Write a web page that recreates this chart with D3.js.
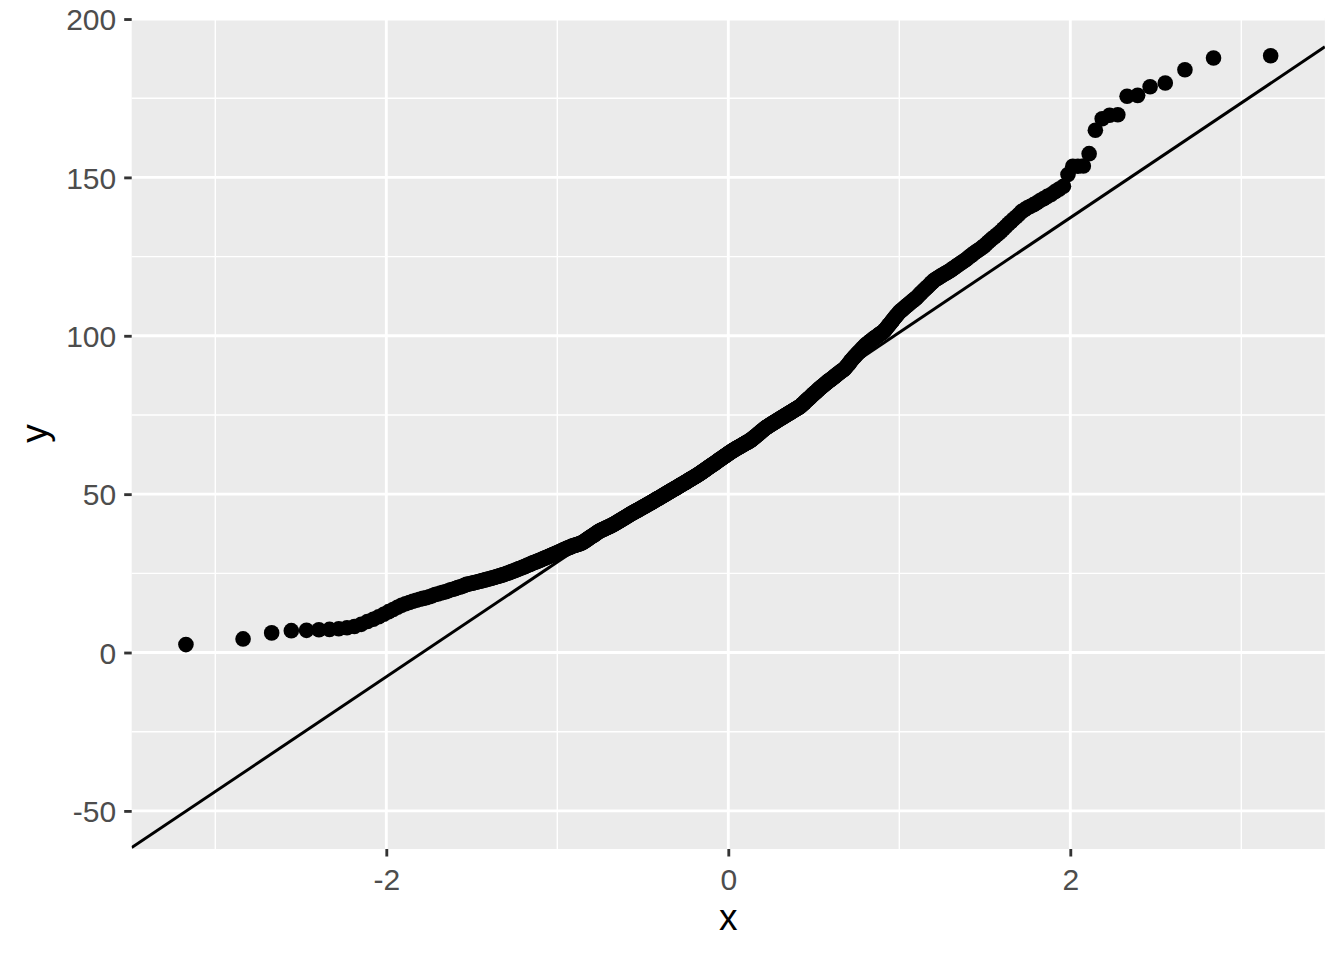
<!DOCTYPE html>
<html>
<head>
<meta charset="utf-8">
<script src="https://cdn.jsdelivr.net/npm/d3@7"></script>
<style>
  html, body { margin: 0; padding: 0; background: #ffffff; }
  svg { display: block; }
  text { font-family: "Liberation Sans", Arial, Helvetica, sans-serif; }
</style>
</head>
<body>
<svg id="chart" width="1344" height="960"></svg>
<script>
// Sorted sample values (y), one per point (n = 660)
const sampleValues = [
  2.5, 4.3, 6.2, 6.9, 7.0, 7.2, 7.3, 7.5, 7.8, 8.2,
  8.9, 9.8, 10.5, 11.3, 12.1, 12.9, 13.6, 14.3, 14.9, 15.4,
  15.8, 16.2, 16.5, 16.8, 17.1, 17.3, 17.6, 17.9, 18.3, 18.5,
  18.8, 19.0, 19.2, 19.5, 19.8, 20.0, 20.2, 20.5, 20.7, 20.9,
  21.2, 21.5, 21.6, 21.8, 21.9, 22.1, 22.2, 22.4, 22.5, 22.7,
  22.8, 23.0, 23.1, 23.3, 23.4, 23.6, 23.7, 23.9, 24.0, 24.2,
  24.3, 24.5, 24.6, 24.8, 25.0, 25.1, 25.3, 25.5, 25.7, 25.8,
  26.0, 26.2, 26.4, 26.5, 26.7, 26.9, 27.0, 27.2, 27.4, 27.6,
  27.7, 27.9, 28.1, 28.3, 28.4, 28.6, 28.7, 28.9, 29.0, 29.2,
  29.3, 29.5, 29.7, 29.8, 30.0, 30.1, 30.3, 30.4, 30.6, 30.7,
  30.9, 31.0, 31.2, 31.3, 31.5, 31.6, 31.8, 31.9, 32.1, 32.2,
  32.4, 32.5, 32.7, 32.8, 33.0, 33.1, 33.2, 33.3, 33.5, 33.6,
  33.7, 33.8, 33.9, 34.0, 34.1, 34.2, 34.3, 34.4, 34.5, 34.7,
  34.8, 35.0, 35.2, 35.4, 35.6, 35.8, 36.0, 36.2, 36.4, 36.6,
  36.8, 36.9, 37.1, 37.3, 37.5, 37.7, 37.9, 38.1, 38.3, 38.4,
  38.5, 38.7, 38.8, 38.9, 39.0, 39.2, 39.3, 39.4, 39.5, 39.7,
  39.8, 39.9, 40.0, 40.2, 40.3, 40.4, 40.6, 40.7, 40.9, 41.0,
  41.2, 41.3, 41.5, 41.6, 41.8, 41.9, 42.1, 42.2, 42.4, 42.5,
  42.7, 42.8, 43.0, 43.1, 43.3, 43.4, 43.6, 43.7, 43.9, 44.0,
  44.1, 44.3, 44.4, 44.5, 44.7, 44.8, 44.9, 45.0, 45.2, 45.3,
  45.4, 45.6, 45.7, 45.8, 46.0, 46.1, 46.2, 46.4, 46.5, 46.6,
  46.8, 46.9, 47.0, 47.1, 47.3, 47.4, 47.5, 47.7, 47.8, 47.9,
  48.1, 48.2, 48.3, 48.5, 48.6, 48.7, 48.8, 49.0, 49.1, 49.2,
  49.4, 49.5, 49.6, 49.8, 49.9, 50.0, 50.2, 50.3, 50.4, 50.6,
  50.7, 50.8, 50.9, 51.1, 51.2, 51.3, 51.4, 51.6, 51.7, 51.8,
  51.9, 52.1, 52.2, 52.3, 52.5, 52.6, 52.7, 52.8, 53.0, 53.1,
  53.2, 53.3, 53.5, 53.6, 53.7, 53.8, 54.0, 54.1, 54.2, 54.4,
  54.5, 54.6, 54.7, 54.9, 55.0, 55.1, 55.2, 55.4, 55.5, 55.6,
  55.7, 55.9, 56.0, 56.1, 56.3, 56.4, 56.5, 56.7, 56.8, 57.0,
  57.1, 57.3, 57.4, 57.5, 57.7, 57.8, 58.0, 58.1, 58.3, 58.4,
  58.6, 58.7, 58.8, 59.0, 59.1, 59.3, 59.4, 59.6, 59.7, 59.8,
  60.0, 60.1, 60.3, 60.4, 60.6, 60.7, 60.9, 61.0, 61.1, 61.3,
  61.4, 61.6, 61.7, 61.9, 62.0, 62.1, 62.3, 62.4, 62.6, 62.7,
  62.9, 63.0, 63.1, 63.3, 63.4, 63.6, 63.7, 63.8, 63.9, 64.1,
  64.2, 64.3, 64.4, 64.5, 64.7, 64.8, 64.9, 65.0, 65.1, 65.2,
  65.4, 65.5, 65.6, 65.7, 65.8, 66.0, 66.1, 66.2, 66.3, 66.4,
  66.5, 66.6, 66.8, 66.9, 67.0, 67.2, 67.3, 67.5, 67.7, 67.9,
  68.0, 68.2, 68.4, 68.6, 68.7, 68.9, 69.1, 69.3, 69.4, 69.6,
  69.8, 70.0, 70.1, 70.3, 70.5, 70.7, 70.8, 71.0, 71.1, 71.3,
  71.4, 71.5, 71.7, 71.8, 71.9, 72.1, 72.2, 72.3, 72.5, 72.6,
  72.7, 72.9, 73.0, 73.1, 73.3, 73.4, 73.5, 73.7, 73.8, 73.9,
  74.1, 74.2, 74.3, 74.5, 74.6, 74.7, 74.9, 75.0, 75.1, 75.3,
  75.4, 75.5, 75.7, 75.8, 75.9, 76.1, 76.2, 76.3, 76.5, 76.6,
  76.7, 76.9, 77.0, 77.1, 77.3, 77.4, 77.5, 77.7, 77.9, 78.1,
  78.3, 78.5, 78.7, 78.9, 79.2, 79.4, 79.6, 79.8, 80.0, 80.2,
  80.4, 80.6, 80.8, 81.1, 81.3, 81.5, 81.7, 81.9, 82.1, 82.3,
  82.5, 82.8, 83.0, 83.2, 83.4, 83.6, 83.8, 84.0, 84.2, 84.4,
  84.6, 84.8, 85.0, 85.2, 85.4, 85.6, 85.8, 86.0, 86.1, 86.3,
  86.5, 86.7, 86.9, 87.1, 87.3, 87.5, 87.7, 87.9, 88.1, 88.3,
  88.5, 88.7, 88.9, 89.1, 89.2, 89.4, 89.7, 90.0, 90.3, 90.6,
  90.9, 91.2, 91.6, 92.0, 92.3, 92.6, 92.9, 93.2, 93.5, 93.8,
  94.1, 94.4, 94.7, 94.9, 95.2, 95.5, 95.8, 96.1, 96.4, 96.7,
  97.0, 97.2, 97.5, 97.7, 97.9, 98.2, 98.4, 98.6, 98.8, 99.1,
  99.3, 99.5, 99.7, 99.9, 100.2, 100.4, 100.6, 100.8, 101.0, 101.3,
  101.5, 101.9, 102.3, 102.7, 103.1, 103.5, 103.9, 104.3, 104.7, 105.1,
  105.5, 105.9, 106.3, 106.7, 107.1, 107.5, 107.8, 108.1, 108.4, 108.7,
  109.0, 109.3, 109.6, 109.9, 110.2, 110.5, 110.8, 111.1, 111.4, 111.7,
  112.0, 112.4, 112.8, 113.2, 113.6, 114.0, 114.4, 114.7, 115.1, 115.5,
  115.9, 116.3, 116.7, 117.1, 117.5, 117.8, 118.0, 118.3, 118.6, 118.9,
  119.1, 119.4, 119.7, 119.9, 120.2, 120.5, 120.8, 121.2, 121.5, 121.9,
  122.2, 122.6, 122.9, 123.3, 123.6, 124.0, 124.4, 124.9, 125.3, 125.7,
  126.2, 126.6, 127.0, 127.4, 127.9, 128.3, 128.9, 129.5, 130.1, 130.7,
  131.2, 131.8, 132.4, 133.0, 133.8, 134.5, 135.3, 136.0, 136.8, 137.5,
  138.3, 139.2, 139.8, 140.4, 140.9, 141.4, 142.0, 142.7, 143.3, 144.0,
  144.6, 145.5, 146.3, 147.2, 150.9, 153.5, 153.5, 153.6, 157.5, 164.9,
  168.5, 169.6, 169.8, 175.6, 175.9, 178.6, 179.8, 184.0, 187.7, 188.4
];

const xTicks = [-2, 0, 2];
const xMinorTicks = [-3, -1, 1, 3];
const yTicks = [-50, 0, 50, 100, 150, 200];
const yMinorTicks = [-25, 25, 75, 125, 175];
const xTitle = "x";
const yTitle = "y";

// inverse standard normal CDF (Acklam) used by the QQ statistic
function qnorm(p) {
  const a = [-3.969683028665376e+01, 2.209460984245205e+02, -2.759285104469687e+02, 1.383577518672690e+02, -3.066479806614716e+01, 2.506628277459239e+00];
  const b = [-5.447609879822406e+01, 1.615858368580409e+02, -1.556989798598866e+02, 6.680131188771972e+01, -1.328068155288572e+01];
  const c = [-7.784894002430293e-03, -3.223964580411365e-01, -2.400758277161838e+00, -2.549671323440625e+00, 4.374664141464968e+00, 2.938163982698783e+00];
  const d = [7.784695709041462e-03, 3.224671290700398e-01, 2.445134137142996e+00, 3.754408661907416e+00];
  const pl = 0.02425, ph = 1 - pl;
  let q, r;
  if (p < pl) {
    q = Math.sqrt(-2 * Math.log(p));
    return (((((c[0]*q+c[1])*q+c[2])*q+c[3])*q+c[4])*q+c[5]) / ((((d[0]*q+d[1])*q+d[2])*q+d[3])*q+1);
  }
  if (p <= ph) {
    q = p - 0.5; r = q * q;
    return (((((a[0]*r+a[1])*r+a[2])*r+a[3])*r+a[4])*r+a[5])*q / (((((b[0]*r+b[1])*r+b[2])*r+b[3])*r+b[4])*r+1);
  }
  q = Math.sqrt(-2 * Math.log(1 - p));
  return -(((((c[0]*q+c[1])*q+c[2])*q+c[3])*q+c[4])*q+c[5]) / ((((d[0]*q+d[1])*q+d[2])*q+d[3])*q+1);
}

const n = sampleValues.length;
const sorted = sampleValues.slice().sort((a, b) => a - b);
const points = sorted.map((y, i) => ({ x: qnorm((i + 1 - 0.5) / n), y }));

// qq line through the quartiles
const yq = [d3.quantileSorted(sorted, 0.25), d3.quantileSorted(sorted, 0.75)];
const xq = [qnorm(0.25), qnorm(0.75)];
const slope = (yq[1] - yq[0]) / (xq[1] - xq[0]);
const intercept = yq[0] - slope * xq[0];

const xExt = d3.extent(points, d => d.x);
const yExtPts = d3.extent(points, d => d.y);
const lineYs = xExt.map(x => intercept + slope * x);
const yMin = Math.min(yExtPts[0], ...lineYs), yMax = Math.max(yExtPts[1], ...lineYs);
const xPad = (xExt[1] - xExt[0]) * 0.05, yPad = (yMax - yMin) * 0.05;

const panel = { left: 131.7, right: 1324.9, top: 18, bottom: 849 };

const x = d3.scaleLinear().domain([xExt[0] - xPad, xExt[1] + xPad]).range([panel.left, panel.right]);
const y = d3.scaleLinear().domain([yMin - yPad, yMax + yPad]).range([panel.bottom, panel.top]);

const svg = d3.select("#chart");

svg.append("defs").append("clipPath").attr("id", "clip")
  .append("rect")
  .attr("x", panel.left).attr("y", panel.top)
  .attr("width", panel.right - panel.left).attr("height", panel.bottom - panel.top);

svg.append("rect")
  .attr("x", panel.left).attr("y", panel.top)
  .attr("width", panel.right - panel.left).attr("height", panel.bottom - panel.top)
  .attr("fill", "#EBEBEB");

const grid = svg.append("g");
grid.selectAll(".xminor").data(xMinorTicks).join("line")
  .attr("x1", d => x(d)).attr("x2", d => x(d))
  .attr("y1", panel.top).attr("y2", panel.bottom)
  .attr("stroke", "#ffffff").attr("stroke-width", 1.42);
grid.selectAll(".yminor").data(yMinorTicks).join("line")
  .attr("y1", d => y(d)).attr("y2", d => y(d))
  .attr("x1", panel.left).attr("x2", panel.right)
  .attr("stroke", "#ffffff").attr("stroke-width", 1.42);
grid.selectAll(".xmajor").data(xTicks).join("line")
  .attr("x1", d => x(d)).attr("x2", d => x(d))
  .attr("y1", panel.top).attr("y2", panel.bottom)
  .attr("stroke", "#ffffff").attr("stroke-width", 2.85);
grid.selectAll(".ymajor").data(yTicks).join("line")
  .attr("y1", d => y(d)).attr("y2", d => y(d))
  .attr("x1", panel.left).attr("x2", panel.right)
  .attr("stroke", "#ffffff").attr("stroke-width", 2.85);

const plotG = svg.append("g").attr("clip-path", "url(#clip)");
plotG.selectAll("circle").data(points).join("circle")
  .attr("cx", d => x(d.x)).attr("cy", d => y(d.y))
  .attr("r", 7.8).attr("fill", "#000000");

const dom = x.domain();
plotG.append("line")
  .attr("x1", x(dom[0])).attr("y1", y(intercept + slope * dom[0]))
  .attr("x2", x(dom[1])).attr("y2", y(intercept + slope * dom[1]))
  .attr("stroke", "#000000").attr("stroke-width", 3);

// axes
const tickLen = 7.5, tickFont = 30;
const xAxis = svg.append("g").attr("transform", `translate(0,${panel.bottom})`)
  .call(d3.axisBottom(x).tickValues(xTicks).tickSize(tickLen).tickPadding(6).tickFormat(d3.format("d")));
const yAxis = svg.append("g").attr("transform", `translate(${panel.left},0)`)
  .call(d3.axisLeft(y).tickValues(yTicks).tickSize(tickLen).tickPadding(8).tickFormat(d3.format("d")));
[xAxis, yAxis].forEach(g => {
  g.select(".domain").remove();
  g.selectAll(".tick line").attr("stroke", "#333333").attr("stroke-width", 2.85);
  g.selectAll(".tick text").attr("fill", "#4D4D4D").style("font-size", tickFont + "px")
    .style("font-family", '"Liberation Sans", Arial, Helvetica, sans-serif');
});
xAxis.selectAll(".tick text").text(d => String(d)).attr("y", null).attr("dy", null)
  .attr("transform", null).attr("y", 890 - panel.bottom);
yAxis.selectAll(".tick text").text(d => String(d)).attr("dy", "0.36em");

svg.append("text")
  .attr("x", (panel.left + panel.right) / 2).attr("y", 930)
  .attr("text-anchor", "middle").attr("fill", "#000000")
  .style("font-size", "37px").text(xTitle);

svg.append("text")
  .attr("transform", `translate(47,${(panel.top + panel.bottom) / 2}) rotate(-90)`)
  .attr("text-anchor", "middle").attr("fill", "#000000")
  .style("font-size", "37px").text(yTitle);
</script>
</body>
</html>
